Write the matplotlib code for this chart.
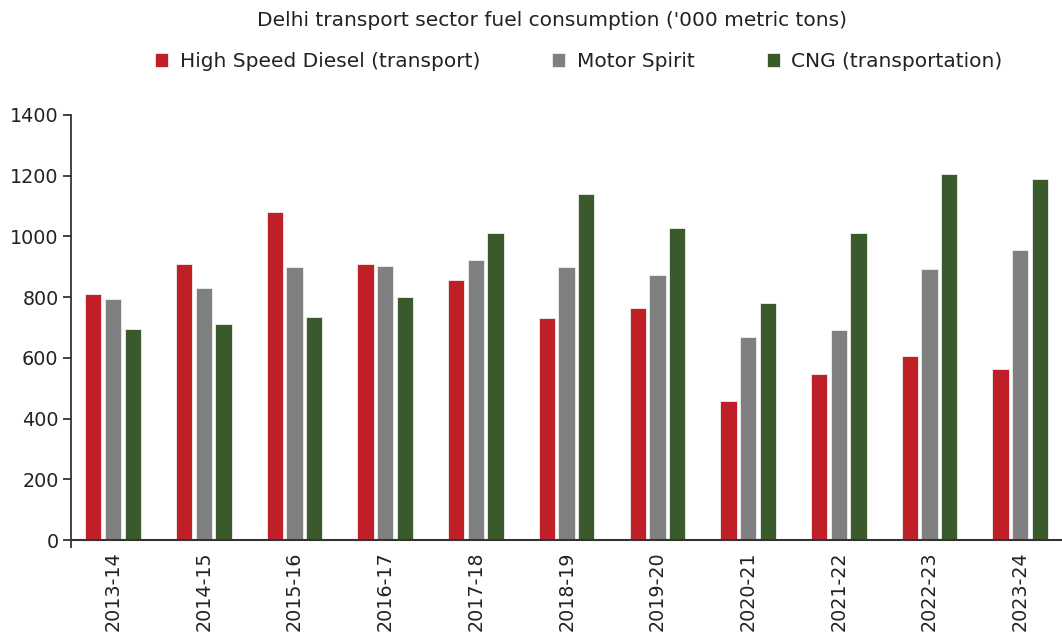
import matplotlib.pyplot as plt
import numpy as np

years = ["2013-14", "2014-15", "2015-16", "2016-17", "2017-18", "2018-19",
         "2019-20", "2020-21", "2021-22", "2022-23", "2023-24"]
hsd = [809, 910, 1079, 910, 857, 731, 764, 457, 546, 606, 562]
ms = [793, 829, 898, 902, 922, 898, 874, 668, 692, 894, 954]
cng = [695, 711, 736, 800, 1011, 1141, 1028, 781, 1011, 1206, 1190]

series = [
    ("High Speed Diesel (transport)", hsd, "#C01F28"),
    ("Motor Spirit", ms, "#808080"),
    ("CNG (transportation)", cng, "#3B5A2B"),
]

plt.rcParams['font.family'] = ['DejaVu Sans']
plt.rcParams['text.color'] = '#222222'

fig = plt.figure(figsize=(10.62, 6.35), dpi=100)
ax = fig.add_axes([71 / 1062, 95 / 635, 1 - 71 / 1062, 425 / 635])

x = np.arange(len(years))
width = 0.18
step = 0.217
for i, (name, vals, color) in enumerate(series):
    ax.bar(x + (i - 1) * step, vals, width, color=color, label=name,
           edgecolor='#f0f0f0', linewidth=0.6)

ax.set_ylim(0, 1400)
ax.set_xlim(-0.463, 10.46)
ax.set_yticks(range(0, 1401, 200))
ax.set_xticks(x)
ax.set_xticklabels(years, rotation=90, fontsize=13.8)
ax.tick_params(axis='y', labelsize=13.8, length=6, width=1.2, pad=3, colors='#222222')
ax.tick_params(axis='x', length=0, pad=8, colors='#222222')
ax.set_xticks([-0.463], minor=True)
ax.tick_params(axis='x', which='minor', length=6, width=1.2, color='#222222')

for s in ['top', 'right']:
    ax.spines[s].set_visible(False)
ax.spines['left'].set_color('#222222')
ax.spines['left'].set_linewidth(1.2)
ax.spines['bottom'].set_color('#333333')
ax.spines['bottom'].set_linewidth(1.5)

fig.text(0.52, 0.968, "Delhi transport sector fuel consumption ('000 metric tons)",
         ha='center', va='center', fontsize=14.5)
fig.legend(loc='center', bbox_to_anchor=(0.545, 0.903), ncol=3, frameon=False,
           fontsize=14.5, handlelength=0.65, handleheight=0.65, handletextpad=0.55,
           columnspacing=3.6)

fig.savefig("out.png", dpi=100)
